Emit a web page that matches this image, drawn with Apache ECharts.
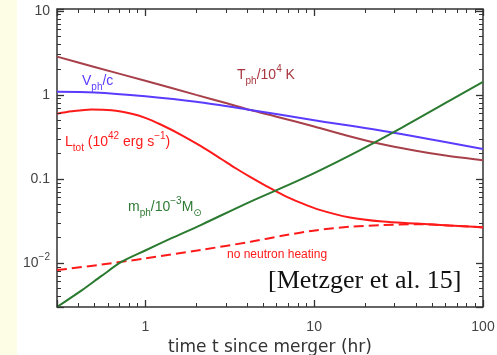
<!DOCTYPE html>
<html>
<head>
<meta charset="utf-8">
<script src="https://cdn.jsdelivr.net/npm/echarts@6/dist/echarts.min.js"></script>
<style>html,body{margin:0;padding:0;background:#fff;}#c{width:497px;height:355px;}</style>
</head>
<body>
<div id="c"></div>
<script>
// ---- data ----
const tempT = [0.3, 0.5, 1, 2, 3, 4.2, 6, 10, 15, 23, 40, 60, 100];
const tempV = [2.85, 2.15, 1.47, 1.0, 0.80, 0.66, 0.55, 0.42, 0.335, 0.27, 0.217, 0.19, 0.167];

const velT = [0.3, 0.5, 1, 2, 4.2, 10, 29, 100];
const velV = [1.09, 1.07, 0.96, 0.826, 0.66, 0.50, 0.357, 0.227];

const lumT = [0.3, 0.367, 0.48, 0.63, 0.83, 1, 1.242, 1.628, 2.135, 2.8, 3.43, 4.2, 5.15, 6.57, 8.27, 10.4, 16.3, 25.5, 40.3, 63, 100];
const lumV = [0.595, 0.637, 0.67, 0.655, 0.595, 0.533, 0.441, 0.335, 0.245, 0.174, 0.134, 0.105, 0.0833, 0.0642, 0.0523, 0.0438, 0.0348, 0.0311, 0.0295, 0.0279, 0.0267];

const noHeatT = [0.3, 0.55, 1, 2.13, 4.2, 6.57, 10.4, 16.3, 25.5, 40.3, 63, 100];
const noHeatV = [0.00824, 0.0096, 0.01135, 0.0143, 0.0179, 0.0212, 0.0246, 0.0270, 0.0283, 0.0290, 0.0280, 0.0265];

const massT = [0.3, 0.42, 0.551, 0.722, 1, 1.42, 2.13, 4.2, 8.27, 16.3, 32.1, 63.1, 100];
const massV = [0.003, 0.00473, 0.00703, 0.0103, 0.0141, 0.0196, 0.0283, 0.0538, 0.098, 0.191, 0.395, 0.849, 1.43];

const xMin = 0.3, xMax = 100, yMin = 0.003, yMax = 10.5;
const yTickLabels = {"10": "10", "1": "1", "0.1": "0.1", "0.01": "{b|10}{s|−2}"};

// ---- helpers ----
const zip = (a, b) => a.map((v, i) => [v, b[i]]);
const isPow10 = v => { const l = Math.log10(v); return Math.abs(l - Math.round(l)) < 1e-6; };

const chart = echarts.init(document.getElementById('c'), null, {renderer: 'canvas'});
const font = 'Liberation Sans';

function richLabel(color) {
  return {
    m: {fontSize: 14, fontFamily: font, fill: color, lineHeight: 22},
    s: {fontSize: 10, fontFamily: font, fill: color, lineHeight: 10, verticalAlign: 'bottom'},
    g: {fontSize: 10, fontFamily: 'DejaVu Sans', fill: color, lineHeight: 10, verticalAlign: 'bottom'},
    u: {fontSize: 10, fontFamily: font, fill: color, lineHeight: 12, verticalAlign: 'top'}
  };
}

function logAxis(min, max, position, label, extra) {
  return Object.assign({
    type: 'log', logBase: 10, min: min, max: max, position: position, z: 6,
    axisLine: {show: false},
    splitLine: {show: false},
    axisTick: {show: true, inside: true, length: 7, lineStyle: {color: '#333', width: 1.3}},
    minorTick: {show: true, splitNumber: 9, length: 4, lineStyle: {color: '#333', width: 1}},
    axisLabel: label
  }, extra || {});
}

function lineSeries(name, t, v, color, dashed) {
  return {
    type: 'line', name: name, data: zip(t, v), showSymbol: false, smooth: 0.3,
    lineStyle: {color: color, width: 2, type: dashed ? [10, 5] : 'solid'}
  };
}

chart.setOption({
  animation: false,
  grid: {left: 57, right: 14, top: 9, bottom: 48, show: true, borderColor: '#333', borderWidth: 1.5, outerBoundsMode: 'none'},
  xAxis: [
    logAxis(xMin, xMax, 'bottom', {
      color: '#444', fontSize: 14, fontFamily: font, margin: 13,
      showMinLabel: true, showMaxLabel: true, hideOverlap: false,
      formatter: v => isPow10(v) ? String(Math.round(v)) : ''
    }, {
      name: 'time t since merger (hr)', nameLocation: 'middle', nameGap: 31,
      nameTextStyle: {color: '#333', fontSize: 17, fontFamily: 'DejaVu Sans'}
    }),
    logAxis(xMin, xMax, 'top', {show: false})
  ],
  yAxis: [
    logAxis(yMin, yMax, 'left', {
      color: '#444', fontSize: 14, fontFamily: font, margin: 7, hideOverlap: false,
      formatter: v => {
        if (!isPow10(v)) return '';
        const key = String(Math.round(Math.log10(v)) >= 0 ? Math.round(v) : Number(v.toPrecision(1)));
        return yTickLabels[key] || '';
      },
      rich: {
        b: {fontSize: 14, fontFamily: font, color: '#444', lineHeight: 22, verticalAlign: 'middle'},
        s: {fontSize: 10, fontFamily: font, color: '#444', lineHeight: 12, verticalAlign: 'top'}
      }
    }),
    logAxis(yMin, yMax, 'right', {show: false})
  ],
  graphic: [
    {type: 'rect', left: 0, top: 0, z: -10, shape: {width: 17, height: 355}, style: {fill: '#fdfde6'}},
    {type: 'text', x: 82, y: 81, z: 10, style: {text: '{m|V}{s|ph}{m|/c}', verticalAlign: 'middle', rich: richLabel('#5a3cff')}},
    {type: 'text', x: 237, y: 75, z: 10, style: {text: '{m|T}{s|ph}{m|/10}{u|4}{m| K}', verticalAlign: 'middle', rich: richLabel('#a8363f')}},
    {type: 'text', x: 65, y: 142, z: 10, style: {text: '{m|L}{s|tot}{m| (10}{u|42}{m| erg s}{u|−1}{m|)}', verticalAlign: 'middle', rich: richLabel('#ff1a1a')}},
    {type: 'text', x: 128, y: 207, z: 10, style: {text: '{m|m}{s|ph}{m|/10}{u|−3}{m|M}{g|⊙}', verticalAlign: 'middle', rich: richLabel('#2e7a33')}},
    {type: 'text', x: 227, y: 255, z: 10, style: {text: 'no neutron heating', verticalAlign: 'middle', fill: '#ff1a1a', fontSize: 12, fontFamily: font}},
    {type: 'text', x: 268, y: 281, z: 10, style: {text: '[Metzger et al. 15]', verticalAlign: 'middle', fill: '#111', fontSize: 26, fontFamily: 'Liberation Serif'}}
  ],
  series: [
    lineSeries('T', tempT, tempV, '#a8404a'),
    lineSeries('V', velT, velV, '#5a3cff'),
    lineSeries('L', lumT, lumV, '#ff1a1a'),
    lineSeries('Lno', noHeatT, noHeatV, '#ff1a1a', true),
    lineSeries('m', massT, massV, '#2a7a30')
  ]
});
</script>
</body>
</html>
